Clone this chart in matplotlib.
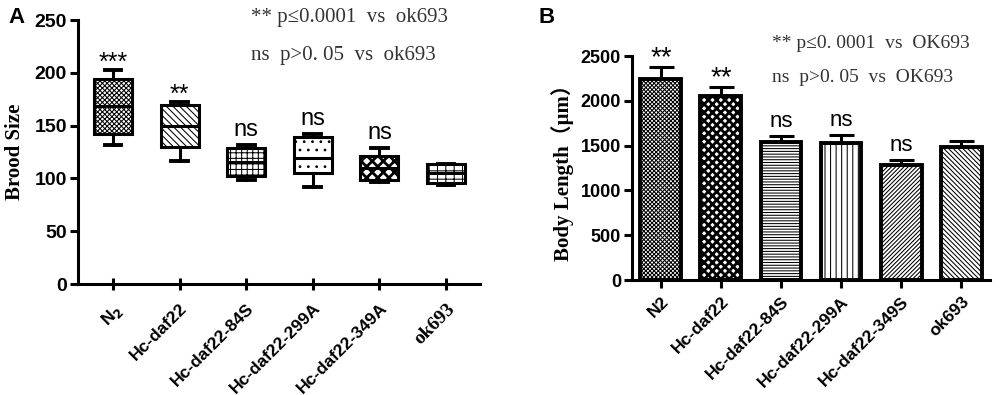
import matplotlib
matplotlib.use('Agg')
import matplotlib.pyplot as plt
import numpy as np

plt.rcParams['hatch.linewidth'] = 0.75

# ---------------- Panel A data (box plots) ----------------
strains_a = ['N$_\\mathbf{2}$', 'Hc-daf22', 'Hc-daf22-84S', 'Hc-daf22-299A', 'Hc-daf22-349A', 'ok693']
whislo_a = [132, 117, 99, 92, 97, 93.5]
q1_a = [142, 130, 102, 105.5, 98.5, 96]
med_a = [168.5, 150, 116, 119, 110, 105]
q3_a = [194, 169.5, 129, 139.5, 121, 113.5]
whishi_a = [202.5, 172, 132, 142, 128.5, 114]
sig_a = ['***', '**', 'ns', 'ns', 'ns', '']
yticks_a = [0, 50, 100, 150, 200, 250]

# ---------------- Panel B data (bars) ----------------
strains_b = ['N2', 'Hc-daf22', 'Hc-daf22-84S', 'Hc-daf22-299A', 'Hc-daf22-349S', 'ok693']
length_mean = [2243, 2053, 1543, 1525, 1287, 1488]
length_err = [137, 104, 61, 90, 56, 63]
sig_b = ['**', '**', 'ns', 'ns', 'ns', '']
yticks_b = [0, 500, 1000, 1500, 2000, 2500]

hatch_a = ['x' * 7, '\\' * 5, '+' * 3, '..', 'x' * 3, '++']
hatch_b = ['x' * 8, 'x' * 4, '-' * 6, '|||', '/' * 8, '\\' * 7]
hatch_lw_a = [0.75, 0.75, 0.75, 0.75, 2.0, 0.75]
hatch_lw_b = [0.75, 2.0, 0.75, 0.75, 0.75, 0.75]

serif = ['Liberation Serif', 'DejaVu Serif']
sans = ['Liberation Sans', 'DejaVu Sans']
LW = 2.2


def set_hatch(patch, h, lw):
    patch.set_hatch(h)
    try:
        patch.set_hatch_linewidth(lw)
    except Exception:
        pass


fig = plt.figure(figsize=(10, 3.95), dpi=100)

# ================= Panel A =================
axA = fig.add_axes([0.078, 0.281, 0.402, 0.668])
stats = []
for i in range(len(strains_a)):
    stats.append(dict(med=med_a[i], q1=q1_a[i], q3=q3_a[i],
                      whislo=whislo_a[i], whishi=whishi_a[i], fliers=[]))
xa = np.arange(len(strains_a))
bp = axA.bxp(stats, positions=xa, widths=0.57, patch_artist=True,
             showfliers=False, capwidths=0.25,
             boxprops=dict(linewidth=LW, edgecolor='black', facecolor='white'),
             whiskerprops=dict(linewidth=LW, color='black'),
             capprops=dict(linewidth=LW + 0.6, color='black'),
             medianprops=dict(linewidth=LW, color='black'))
for patch, h, hl in zip(bp['boxes'], hatch_a, hatch_lw_a):
    set_hatch(patch, h, hl)
for x, top, s in zip(xa, whishi_a, sig_a):
    if not s:
        continue
    if s.startswith('*'):
        axA.annotate(s, (x, top), xytext=(0, -3), textcoords='offset points',
                     ha='center', va='bottom', fontsize=18, family=sans)
    else:
        axA.annotate(s, (x, top), xytext=(0, 3), textcoords='offset points',
                     ha='center', va='bottom', fontsize=17, family=sans)

axA.set_xlim(-0.525, 5.51)
axA.set_ylim(0, 250)
axA.set_yticks(yticks_a)
axA.set_yticklabels([str(v) for v in yticks_a], fontsize=14, fontweight='bold', family=sans)
axA.set_xticks(xa)
axA.set_xticklabels(strains_a, rotation=45, ha='right', rotation_mode='anchor',
                    fontsize=12.5, fontweight='bold', family=sans)
axA.get_xticklabels()[-1].set_family(serif)
axA.get_xticklabels()[-1].set_fontsize(14)
axA.tick_params(axis='y', width=LW, length=6, pad=2)
axA.tick_params(axis='x', width=LW, length=8, direction='inout', pad=8)
for sp in ['top', 'right']:
    axA.spines[sp].set_visible(False)
for sp in ['left', 'bottom']:
    axA.spines[sp].set_linewidth(LW)
axA.set_ylabel('Brood Size', family=serif, fontweight='bold', fontsize=15, labelpad=7)
axA.text(0.43, 1.01, '** p\u22640.0001  vs  ok693', transform=axA.transAxes,
         ha='left', va='center', fontsize=15, family=serif, color='#333333')
axA.text(0.43, 0.867, 'ns  p>0. 05  vs  ok693', transform=axA.transAxes,
         ha='left', va='center', fontsize=15, family=serif, color='#333333')
fig.text(0.008, 0.955, 'A', fontsize=16, fontweight='bold', family=sans, va='center')

# ================= Panel B =================
axB = fig.add_axes([0.632, 0.291, 0.358, 0.567])
xb = np.arange(len(strains_b))
bars = axB.bar(xb, length_mean, width=0.68, color='white', edgecolor='black',
               linewidth=LW + 0.6)
for b, h, hl in zip(bars, hatch_b, hatch_lw_b):
    set_hatch(b, h, hl)
axB.errorbar(xb, length_mean, yerr=[np.zeros(len(xb)), length_err], fmt='none',
             ecolor='black', elinewidth=LW, capsize=9, capthick=LW)
for x, m, e, s in zip(xb, length_mean, length_err, sig_b):
    if not s:
        continue
    if s.startswith('*'):
        axB.annotate(s, (x, m + e), xytext=(0, -3), textcoords='offset points',
                     ha='center', va='bottom', fontsize=20, family=sans)
    else:
        axB.annotate(s, (x, m + e), xytext=(0, 3), textcoords='offset points',
                     ha='center', va='bottom', fontsize=16, family=sans)

axB.set_xlim(-0.48, 5.48)
axB.set_ylim(0, 2500)
axB.set_yticks(yticks_b)
axB.set_yticklabels([str(v) for v in yticks_b], fontsize=13, fontweight='bold', family=sans)
axB.set_xticks(xb)
axB.set_xticklabels(strains_b, rotation=45, ha='right', rotation_mode='anchor',
                    fontsize=12.5, fontweight='bold', family=sans)
axB.tick_params(axis='y', width=LW, length=6, pad=2)
axB.tick_params(axis='x', width=LW, length=6, pad=4)
for sp in ['top', 'right']:
    axB.spines[sp].set_visible(False)
for sp in ['left', 'bottom']:
    axB.spines[sp].set_linewidth(LW)
axB.set_ylabel('Body Length\uff08\u03bcm\uff09', family=['Liberation Serif', 'Noto Sans CJK SC', 'DejaVu Serif'],
               fontweight='bold', fontsize=15, labelpad=5)
axB.text(0.39, 1.058, '** p\u22640. 0001  vs  OK693', transform=axB.transAxes,
         ha='left', va='center', fontsize=14, family=serif, color='#333333')
axB.text(0.39, 0.906, 'ns  p>0. 05  vs  OK693', transform=axB.transAxes,
         ha='left', va='center', fontsize=14, family=serif, color='#333333')
fig.text(0.538, 0.955, 'B', fontsize=16, fontweight='bold', family=sans, va='center')

fig.savefig('out.png', dpi=100)
